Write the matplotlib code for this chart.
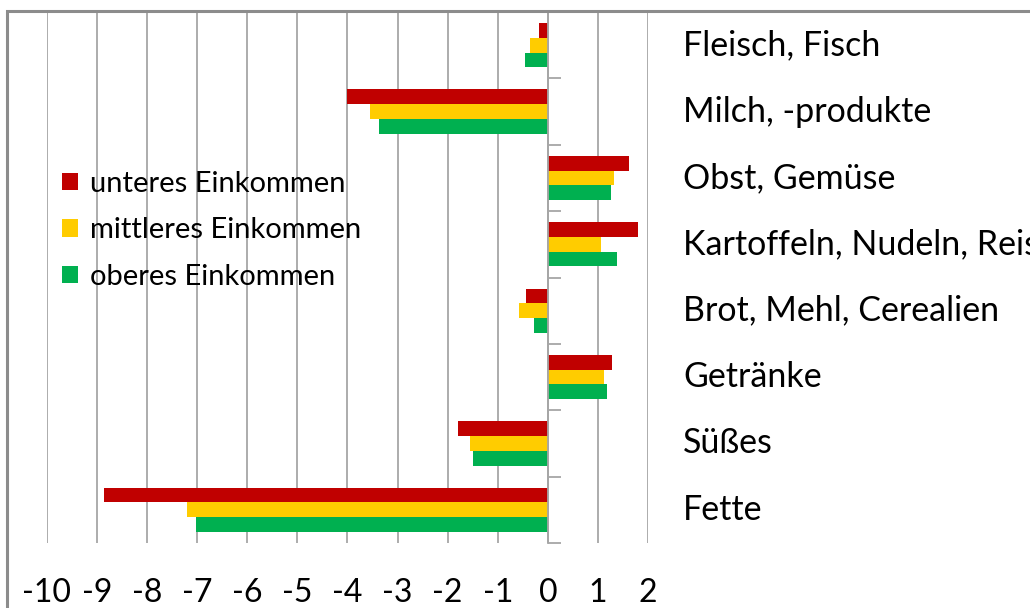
"""
Ausgabenänderung nach Einkommensgruppe - horizontales Balkendiagramm
"""
import matplotlib
matplotlib.use('Agg')
import matplotlib.pyplot as plt
from matplotlib.patches import Rectangle
import numpy as np

# Daten (von oben nach unten)
categories = ['Fleisch, Fisch', 'Milch, -produkte', 'Obst, Gemüse',
              'Kartoffeln, Nudeln, Reis', 'Brot, Mehl, Cerealien',
              'Getränke', 'Süßes', 'Fette']
unteres = [-0.17, -4.0, 1.62, 1.80, -0.43, 1.29, -1.80, -8.87]
mittleres = [-0.35, -3.56, 1.33, 1.06, -0.58, 1.13, -1.55, -7.21]
oberes = [-0.45, -3.38, 1.26, 1.38, -0.27, 1.18, -1.50, -7.03]
series_labels = ['unteres Einkommen', 'mittleres Einkommen', 'oberes Einkommen']
x_ticks = list(range(-10, 3))

colors = ['#C00000', '#FFCC00', '#00B050']
grid_grey = '#A6A6A6'

plt.rcParams['font.family'] = ['Lato', 'DejaVu Sans']

W, H = 1030, 608
fig = plt.figure(figsize=(W / 100, H / 100), dpi=100)

# Rahmen des Diagrammbereichs
fig.patches.append(Rectangle((7 / W, -0.1), 1.2, 1 - 11 / H + 0.1,
                             transform=fig.transFigure, fill=False,
                             edgecolor='#8C8C8C', linewidth=2.2))

ax = fig.add_axes([47 / W, 1 - 543 / H, 601 / W, (543 - 12) / H])

y = np.arange(len(categories))
bar_h = 2 / 3 / 3
for i, (vals, lab) in enumerate(zip([unteres, mittleres, oberes], series_labels)):
    ax.barh(y + (i - 1) * bar_h, vals, height=bar_h, color=colors[i],
            label=lab, zorder=3)

ax.set_xlim(-10, 2)
ax.set_ylim(len(categories) - 0.5, -0.5)

# vertikale Gitterlinien
ax.set_xticks(x_ticks)
ax.set_xticklabels([str(v) for v in x_ticks])
ax.xaxis.grid(True, color=grid_grey, linewidth=1.3, zorder=0)
ax.tick_params(axis='x', length=0, pad=25, labelsize=23)

for s in ['top', 'right', 'bottom']:
    ax.spines[s].set_visible(False)

# y-Achse bei x = 0 mit Trennstrichen nach rechts
ax.spines['left'].set_position(('data', 0))
ax.spines['left'].set_color(grid_grey)
ax.spines['left'].set_linewidth(1.3)
ax.spines['left'].set_zorder(4)
ax.set_yticks(np.arange(-0.5, len(categories), 1))
ax.set_yticklabels([])
ax.tick_params(axis='y', direction='in', length=9.5, width=1.3, color=grid_grey)

# Kategoriebeschriftungen rechts neben dem Plot (Reis wird wie im Original abgeschnitten)
for yi, cat in zip(y, categories):
    ax.text(2.7, yi, cat, fontsize=24.5, va='center', ha='left', clip_on=False)

leg = ax.legend(loc='upper left', bbox_to_anchor=(62 / W, 1 - 171 / H),
                bbox_transform=fig.transFigure, frameon=False, fontsize=21,
                handlelength=0.55, handleheight=0.55, handletextpad=0.4,
                labelspacing=0.7, borderpad=0, borderaxespad=0)

fig.savefig('out.png', dpi=100)
